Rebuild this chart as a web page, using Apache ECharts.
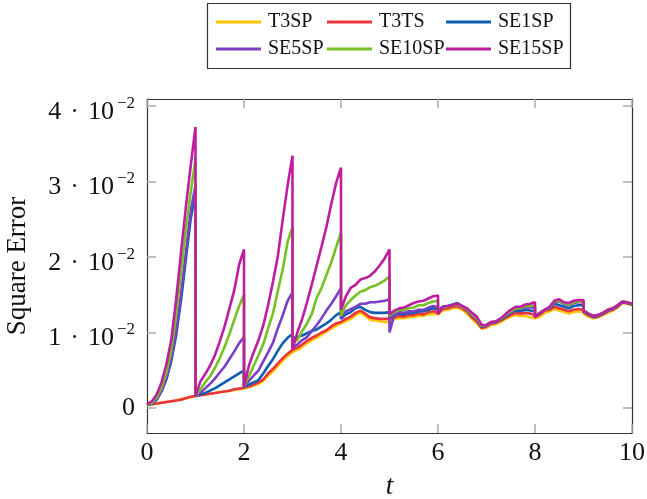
<!DOCTYPE html>
<html>
<head>
<meta charset="utf-8">
<script src="https://cdn.jsdelivr.net/npm/echarts@6/dist/echarts.min.js"></script>
<style>
html,body{margin:0;padding:0;background:#fff;}
#c{width:647px;height:499px;}
</style>
</head>
<body>
<div id="c"></div>
<script>
// values in units of 1e-3; each series: 10 segments [k, k+1], 11 samples (step 0.1)
const segOffsets = [0,0.1,0.2,0.3,0.4,0.5,0.6,0.7,0.8,0.9,1.0];
const xTicks = [0,2,4,6,8,10];
const yTicks = [0,10,20,30,40];
const names = ['T3SP','T3TS','SE1SP','SE5SP','SE10SP','SE15SP'];

const T3SP = [
 [0.4,0.5,0.6,0.7,0.8,0.9,1.0,1.2,1.3,1.4,1.6],
 [1.6,1.7,1.8,1.9,2.0,2.1,2.2,2.3,2.4,2.5,2.6],
 [2.6,2.8,3.0,3.2,3.6,4.3,4.9,5.6,6.3,6.9,7.4],
 [7.4,7.7,8.1,8.6,9.0,9.3,9.7,10.1,10.5,10.9,11.2],
 [11.2,11.5,11.8,12.3,12.6,12.2,11.7,11.6,11.5,11.4,11.4],
 [11.4,11.8,11.9,11.9,12.0,12.1,12.2,12.2,12.4,12.5,12.4],
 [12.4,12.9,13.0,13.2,13.3,13.0,12.5,11.8,11.2,10.5,10.6],
 [10.6,11.0,11.1,11.4,11.8,12.1,12.3,12.2,12.2,12.0,11.9],
 [11.8,12.1,12.6,12.8,13.1,12.9,12.7,12.5,12.7,12.8,12.8],
 [12.5,12.1,11.9,12.0,12.3,12.6,12.9,13.3,13.9,13.8,13.6]
];
const T3TS = [
 [0.4,0.5,0.6,0.7,0.8,0.9,1.0,1.1,1.3,1.5,1.6],
 [1.6,1.7,1.8,1.9,2.0,2.1,2.2,2.3,2.5,2.6,2.7],
 [2.7,2.9,3.1,3.4,3.8,4.6,5.2,5.9,6.6,7.2,7.7],
 [7.7,8.0,8.4,8.9,9.3,9.6,10.0,10.3,10.8,11.2,11.4],
 [11.4,11.8,12.1,12.6,12.9,12.5,12.0,11.9,11.8,11.8,11.8],
 [11.8,12.0,12.2,12.1,12.3,12.3,12.5,12.4,12.7,12.8,12.6],
 [12.6,13.1,13.2,13.4,13.5,13.2,12.8,12.0,11.5,10.6,10.8],
 [10.8,11.2,11.3,11.6,12.0,12.3,12.6,12.5,12.6,12.5,12.3],
 [12.0,12.4,12.9,13.0,13.4,13.2,13.0,12.8,13.0,13.1,13.0],
 [12.7,12.3,12.0,12.1,12.4,12.8,13.0,13.4,14.0,13.9,13.7]
];
const SE1SP = [
 [0.4,0.6,1.1,2.2,3.8,6.2,9.6,14.2,19.6,25.0,28.5],
 [1.6,1.8,2.0,2.3,2.6,3.0,3.4,3.8,4.2,4.6,5.0],
 [2.8,3.1,3.4,3.7,4.6,5.6,6.5,7.6,8.6,9.3,9.8],
 [9.3,9.4,9.6,9.9,10.2,10.4,10.8,11.2,11.7,12.3,12.7],
 [11.8,12.4,12.7,13.2,13.4,13.0,12.7,12.6,12.6,12.6,12.7],
 [12.0,12.3,12.5,12.4,12.6,12.6,12.8,12.8,13.0,13.2,13.0],
 [13.0,13.4,13.5,13.7,13.9,13.5,13.0,12.3,11.7,10.8,10.9],
 [10.9,11.3,11.4,11.7,12.2,12.6,12.9,12.8,13.0,12.9,12.8],
 [12.1,12.5,13.0,13.2,13.8,13.6,13.4,13.2,13.5,13.6,13.6],
 [12.8,12.4,12.1,12.2,12.5,12.9,13.1,13.5,14.0,13.9,13.7]
];
const SE5SP = [
 [0.4,0.6,1.2,2.3,4.0,6.5,10.3,15.0,20.5,26.0,29.5],
 [1.6,2.0,2.6,3.2,3.9,4.7,5.5,6.5,7.5,8.6,9.4],
 [2.8,3.6,4.3,5.0,6.2,7.4,8.7,10.6,12.3,14.2,15.3],
 [8.0,8.4,9.0,9.4,10.2,11.0,11.9,12.9,13.8,14.8,15.9],
 [12.0,12.8,13.1,13.4,13.8,13.8,14.0,14.0,14.1,14.2,14.4],
 [10.0,12.4,12.7,12.6,12.8,12.8,13.0,13.0,13.3,13.5,13.3],
 [12.9,13.3,13.4,13.6,13.7,13.4,13.0,12.3,11.8,10.8,10.9],
 [10.9,11.3,11.4,11.8,12.3,12.7,13.1,13.1,13.3,13.3,13.3],
 [12.1,12.5,13.0,13.3,14.0,14.1,13.8,13.6,13.9,14.0,14.0],
 [12.9,12.5,12.2,12.3,12.6,12.9,13.1,13.5,14.0,13.9,13.8]
];
const SE10SP = [
 [0.4,0.7,1.4,2.7,4.7,7.6,12.3,17.8,23.5,28.5,33.0],
 [1.6,2.5,3.4,4.2,5.3,6.6,8.1,9.8,11.7,13.5,15.0],
 [2.8,4.2,5.6,7.0,8.5,10.6,12.6,15.6,18.4,22.0,24.0],
 [8.5,9.0,10.2,11.2,12.5,14.6,15.9,17.6,19.3,21.3,23.2],
 [12.2,13.6,14.3,14.9,15.4,15.6,16.0,16.2,16.5,16.9,17.4],
 [12.2,12.7,13.0,13.0,13.2,13.3,13.6,13.6,13.9,14.1,14.2],
 [12.6,13.3,13.4,13.6,13.7,13.4,13.1,12.4,11.9,10.9,11.0],
 [11.0,11.4,11.5,11.8,12.4,12.8,13.2,13.2,13.5,13.5,13.6],
 [12.1,12.6,13.0,13.3,14.1,14.2,13.9,13.7,14.0,14.1,14.2],
 [12.9,12.5,12.2,12.3,12.6,13.0,13.2,13.6,14.1,14.0,13.8]
];
const SE15SP = [
 [0.5,0.9,1.8,3.4,5.8,9.0,14.3,20.5,26.5,32.0,37.2],
 [1.6,3.5,4.5,5.6,7.0,8.8,10.8,13.2,15.6,19.0,21.0],
 [2.8,5.6,7.4,9.0,11.0,13.7,16.8,20.2,25.0,29.5,33.4],
 [7.8,10.0,11.8,14.0,16.4,18.9,21.4,24.0,27.0,29.8,31.8],
 [13.0,14.8,15.9,16.3,17.0,17.2,17.5,18.1,18.9,19.8,21.0],
 [12.4,12.9,13.2,13.3,13.6,13.9,14.1,14.2,14.5,14.8,14.9],
 [12.4,13.4,13.5,13.6,13.8,13.5,13.2,12.6,12.1,11.0,11.0],
 [11.0,11.4,11.5,11.9,12.5,13.0,13.4,13.4,13.7,13.8,14.0],
 [12.1,12.6,13.0,13.4,14.2,14.4,14.0,13.9,14.2,14.3,14.3],
 [12.9,12.5,12.2,12.3,12.6,13.0,13.2,13.6,14.1,14.0,13.8]
];

const seriesData = [T3SP, T3TS, SE1SP, SE5SP, SE10SP, SE15SP];
const colors = ['#FFC400','#EC3340','#0D5EB0','#7B3FC6','#77C023','#C01CA2'];

function toPairs(segs){
  const out = [];
  segs.forEach((seg, k) => seg.forEach((v, i) => out.push([+(k + segOffsets[i]).toFixed(2), v])));
  return out;
}

const FONT = '"Liberation Serif", "Times New Roman", Tinos, serif';
const chart = echarts.init(document.getElementById('c'), null, {renderer:'canvas'});

const legendPos = [[216,12],[327,12],[446,12],[216,39],[327,39],[446,39]];
const legends = names.map((n, i) => ({
  data:[n], left: legendPos[i][0], top: legendPos[i][1], padding:0,
  icon:'rect', itemWidth:45, itemHeight:3,
  textStyle:{fontFamily:FONT, fontSize:20, color:'#111', padding:[0,0,0,2]},
  selectedMode:false
}));

const axisLineStyle = {color:'#333', width:1.2};
const tickStyle = {color:'#aaa', width:1.5};

chart.setOption({
  animation:false,
  backgroundColor:'#fff',
  color: colors,
  legend: legends,
  graphic:[{type:'rect', shape:{x:207.5, y:3.5, width:363, height:65},
    style:{fill:'none', stroke:'#333', lineWidth:1.2}, silent:true}],
  grid:{left:147, top:99, right:15, bottom:66, containLabel:false, outerBoundsMode:'none'},
  xAxis:[{
    type:'value', min:0, max:10, interval:2, position:'bottom',
    axisLine:{show:true, onZero:false, lineStyle:axisLineStyle},
    axisTick:{show:true, inside:true, length:9, lineStyle:tickStyle},
    axisLabel:{fontFamily:FONT, fontSize:26, color:'#111', margin:7,
      customValues:xTicks},
    splitLine:{show:false},
    name:'t', nameLocation:'middle', nameGap:40,
    nameTextStyle:{fontFamily:FONT, fontSize:27, fontStyle:'italic', color:'#111'}
  },{
    type:'value', min:0, max:10, interval:2, position:'top',
    axisLine:{show:true, onZero:false, lineStyle:axisLineStyle},
    axisTick:{show:true, inside:true, length:9, lineStyle:tickStyle},
    axisLabel:{show:false}, splitLine:{show:false}
  }],
  yAxis:[{
    type:'value', min:-3.3, max:40.9, position:'left',
    axisLine:{show:true, onZero:false, lineStyle:axisLineStyle},
    axisTick:{show:true, inside:true, length:9, lineStyle:tickStyle, customValues:yTicks},
    axisLabel:{margin:12, customValues:yTicks,
      formatter: v => v === 0 ? '{z|0}' : '{n|' + (v/10) + '}{d|·}{n|10}{s|−2}',
      rich:{
        z:{fontFamily:FONT, fontSize:26, color:'#111', lineHeight:30},
        n:{fontFamily:FONT, fontSize:26, color:'#111', lineHeight:38, verticalAlign:'bottom'},
        d:{fontFamily:FONT, fontSize:26, color:'#111', lineHeight:38, verticalAlign:'bottom', padding:[0,9,0,9]},
        s:{fontFamily:FONT, fontSize:17, color:'#111', lineHeight:17, verticalAlign:'top', padding:[8,0,0,3]}
      }},
    splitLine:{show:false},
    name:'Square Error', nameLocation:'middle', nameGap:116, nameRotate:90,
    nameTextStyle:{fontFamily:FONT, fontSize:27, color:'#111'}
  },{
    type:'value', min:-3.3, max:40.9, position:'right',
    axisLine:{show:true, onZero:false, lineStyle:axisLineStyle},
    axisTick:{show:true, inside:true, length:9, lineStyle:tickStyle, customValues:yTicks},
    axisLabel:{show:false}, splitLine:{show:false}
  }],
  series: seriesData.map((d, i) => ({
    name:names[i], type:'line', data:toPairs(d), showSymbol:false, symbol:'none',
    xAxisIndex:0, yAxisIndex:0,
    lineStyle:{width:2.6, color:colors[i]}, itemStyle:{color:colors[i]},
    emphasis:{disabled:true}, silent:true, sampling:null
  }))
});
</script>
</body>
</html>
